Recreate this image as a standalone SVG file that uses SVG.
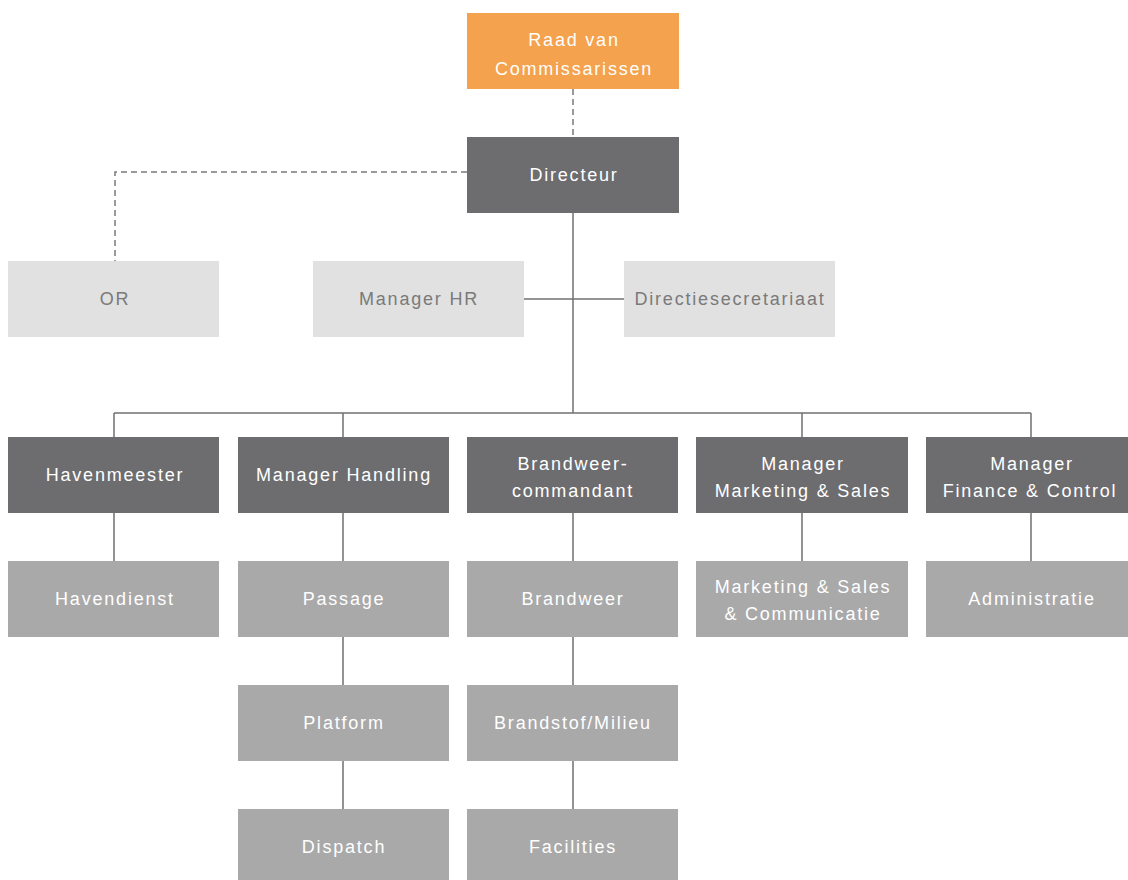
<svg xmlns="http://www.w3.org/2000/svg" width="1128" height="880" viewBox="0 0 1128 880">
<style>
.t{font-family:"Liberation Sans",Arial,sans-serif;font-size:18px;letter-spacing:1.8px;text-anchor:middle}
.w{fill:#ffffff}
.g{fill:#7a7a7a}
.orange{fill:#f4a24d}
.dark{fill:#6d6d70}
.light{fill:#e1e1e1}
.mid{fill:#a9a9aa}
.ln{stroke:#707070;stroke-width:1.5;fill:none}
.dash{stroke:#7a7a7a;stroke-width:1.5;fill:none;stroke-dasharray:6 4}
</style>
<rect width="1128" height="880" fill="#ffffff"/>
<g id="connectors">
<path class="dash" d="M573 89V137"/>
<path class="dash" d="M467 172H115V261"/>
<path class="ln" d="M573 213V413"/>
<path class="ln" d="M524 299H624"/>
<path class="ln" d="M114 413H1031"/>
<path class="ln" d="M114 413V437M343 413V437M1031 413V437M802 413V437"/>
<path class="ln" d="M114 513V561M343 513V561M573 513V561M802 513V561M1031 513V561"/>
<path class="ln" d="M343 637V685M573 637V685M343 761V809M573 761V809"/>
</g>
<g id="raad"><rect class="orange" x="467" y="13" width="212" height="76"/><text class="t w" x="574" y="46">Raad van</text><text class="t w" x="574" y="75">Commissarissen</text></g>
<g id="directeur"><rect class="dark" x="467" y="137" width="212" height="76"/><text class="t w" x="574" y="181">Directeur</text></g>
<g id="or"><rect class="light" x="8" y="261" width="211" height="76"/><text class="t g" x="115" y="305">OR</text></g>
<g id="manager-hr"><rect class="light" x="313" y="261" width="211" height="76"/><text class="t g" x="419" y="305">Manager HR</text></g>
<g id="directiesecretariaat"><rect class="light" x="624" y="261" width="211" height="76"/><text class="t g" x="730" y="305">Directiesecretariaat</text></g>
<g id="havenmeester"><rect class="dark" x="8" y="437" width="211" height="76"/><text class="t w" x="115" y="481">Havenmeester</text></g>
<g id="manager-handling"><rect class="dark" x="238" y="437" width="211" height="76"/><text class="t w" x="344" y="481">Manager Handling</text></g>
<g id="brandweercommandant"><rect class="dark" x="467" y="437" width="211" height="76"/><text class="t w" x="573" y="470">Brandweer-</text><text class="t w" x="573" y="497">commandant</text></g>
<g id="manager-marketing"><rect class="dark" x="696" y="437" width="212" height="76"/><text class="t w" x="803" y="470">Manager</text><text class="t w" x="803" y="497">Marketing &amp; Sales</text></g>
<g id="manager-finance"><rect class="dark" x="926" y="437" width="211" height="76"/><text class="t w" x="1032" y="470">Manager</text><text class="t w" x="1030" y="497">Finance &amp; Control</text></g>
<g id="havendienst"><rect class="mid" x="8" y="561" width="211" height="76"/><text class="t w" x="115" y="605">Havendienst</text></g>
<g id="passage"><rect class="mid" x="238" y="561" width="211" height="76"/><text class="t w" x="344" y="605">Passage</text></g>
<g id="brandweer"><rect class="mid" x="467" y="561" width="211" height="76"/><text class="t w" x="573" y="605">Brandweer</text></g>
<g id="marketing-sales"><rect class="mid" x="696" y="561" width="212" height="76"/><text class="t w" x="803" y="593">Marketing &amp; Sales</text><text class="t w" x="803" y="620">&amp; Communicatie</text></g>
<g id="administratie"><rect class="mid" x="926" y="561" width="211" height="76"/><text class="t w" x="1032" y="605">Administratie</text></g>
<g id="platform"><rect class="mid" x="238" y="685" width="211" height="76"/><text class="t w" x="344" y="729">Platform</text></g>
<g id="brandstof"><rect class="mid" x="467" y="685" width="211" height="76"/><text class="t w" x="573" y="729">Brandstof/Milieu</text></g>
<g id="dispatch"><rect class="mid" x="238" y="809" width="211" height="76"/><text class="t w" x="344" y="853">Dispatch</text></g>
<g id="facilities"><rect class="mid" x="467" y="809" width="211" height="76"/><text class="t w" x="573" y="853">Facilities</text></g>
</svg>
